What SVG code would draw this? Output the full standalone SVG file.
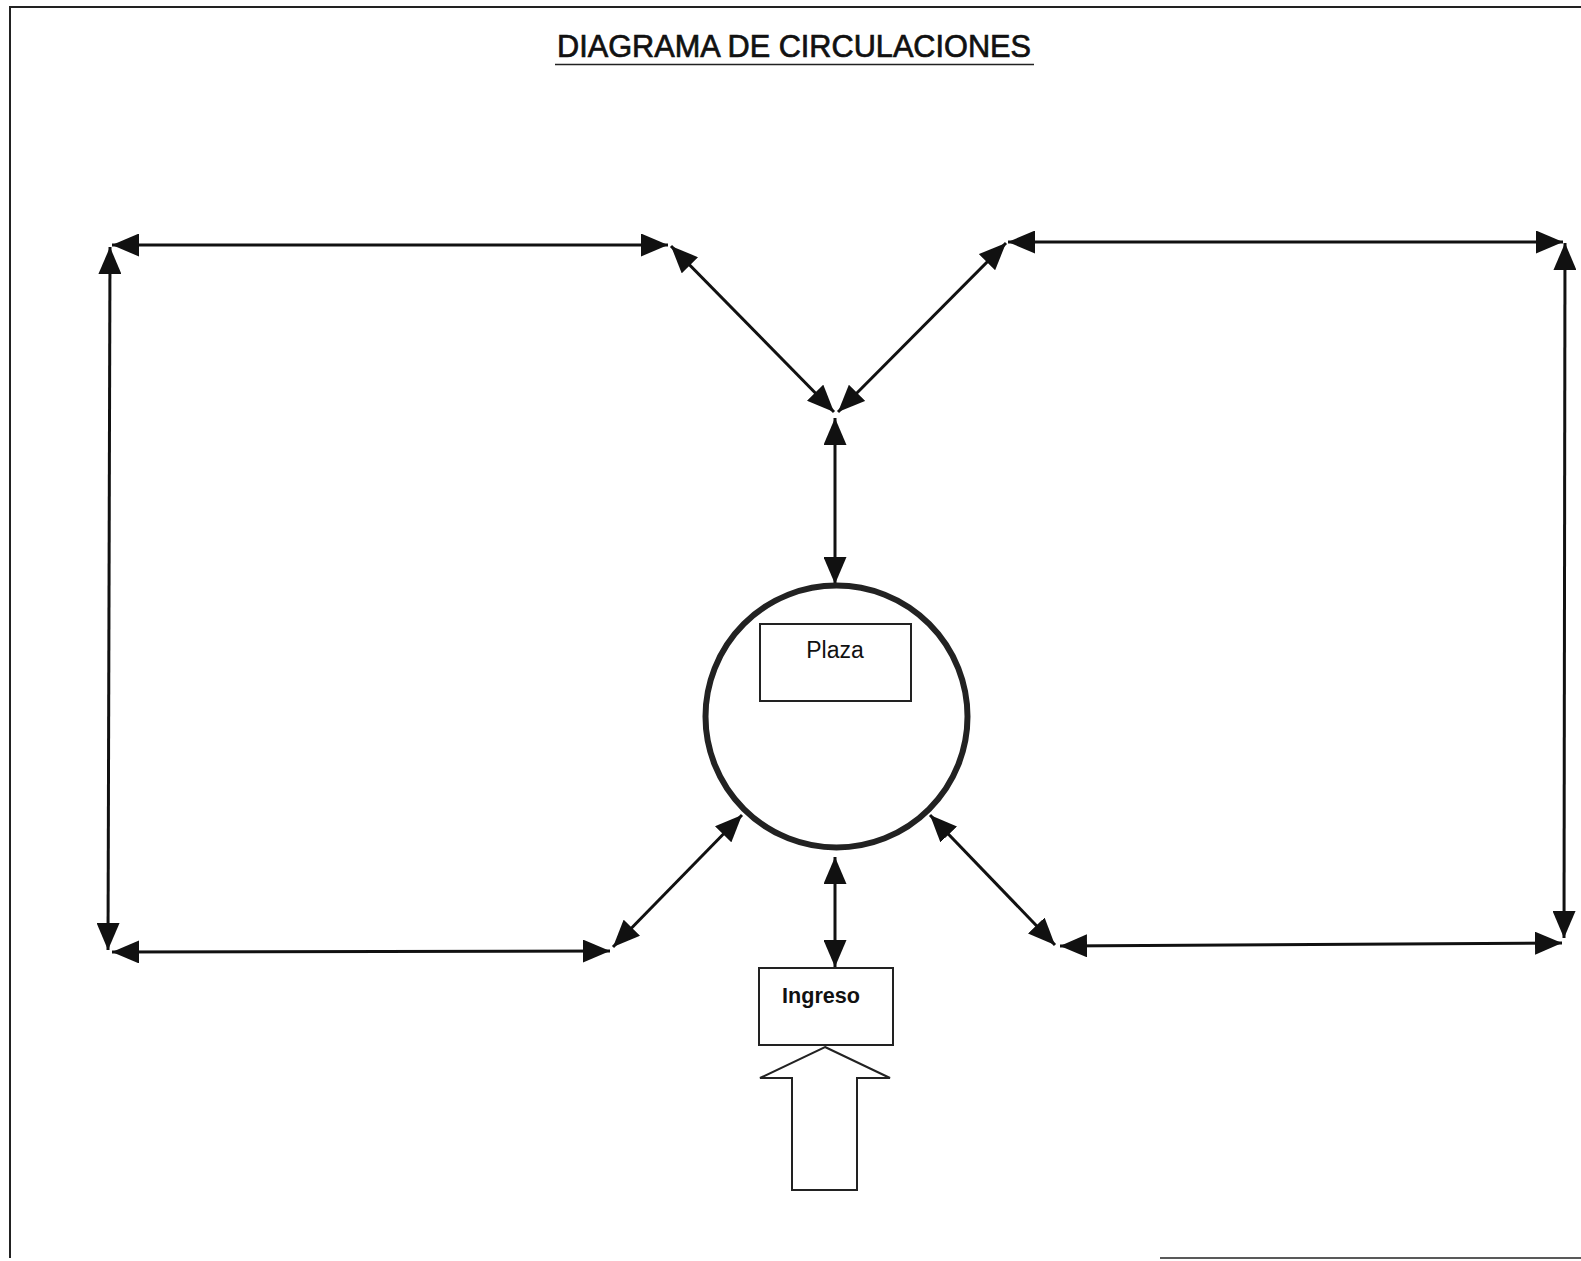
<svg xmlns="http://www.w3.org/2000/svg" width="1581" height="1261" viewBox="0 0 1581 1261">
<style>
.ln{stroke:#111;stroke-width:3;fill:none;marker-start:url(#ah);marker-end:url(#ah)}
.box{fill:#fff;stroke:#222;stroke-width:2}
.lbl{font-family:"Liberation Sans",Arial,sans-serif;fill:#111}
</style>
<defs>
<marker id="ah" viewBox="0 0 27 23" refX="27" refY="11.5" markerWidth="27" markerHeight="23" markerUnits="userSpaceOnUse" orient="auto-start-reverse">
<path d="M0,0 L27,11.5 L0,23 z" fill="#111"/>
</marker>
</defs>
<rect x="0" y="0" width="1581" height="1261" fill="#fff"/>
<g id="frame" fill="none" stroke="#222" stroke-width="2">
<path d="M10,1258 L10,7 L1581,7"/>
<path d="M1160,1258 L1581,1258" stroke-width="1.5"/>
</g>
<g id="title">
<text class="lbl" x="557" y="57" font-size="31" stroke="#111" stroke-width="0.7" textLength="474" lengthAdjust="spacingAndGlyphs">DIAGRAMA DE CIRCULACIONES</text>
<line x1="555" y1="64.5" x2="1034" y2="64.5" stroke="#222" stroke-width="1.5"/>
</g>
<g id="connectors">
<path class="ln" d="M112,245 L668,245"/>
<path class="ln" d="M110,247 L108,950"/>
<path class="ln" d="M112,952 L610,951"/>
<path class="ln" d="M671,246 L834,412"/>
<path class="ln" d="M1006,243 L838,412"/>
<path class="ln" d="M835,418 L835,584"/>
<path class="ln" d="M1008,242 L1563,242"/>
<path class="ln" d="M1565,243 L1564,938"/>
<path class="ln" d="M1060,946 L1562,943"/>
<path class="ln" d="M930,815 L1055,945"/>
<path class="ln" d="M742,815 L613,947"/>
<path class="ln" d="M835,857 L835,967"/>
</g>
<g id="plaza-circle">
<circle cx="836.5" cy="716.5" r="131" fill="none" stroke="#222" stroke-width="6"/>
</g>
<g id="plaza">
<rect class="box" x="760" y="624" width="151" height="77"/>
<text class="lbl" x="835" y="658" font-size="23" text-anchor="middle">Plaza</text>
</g>
<g id="ingreso">
<rect class="box" x="759" y="968" width="134" height="77"/>
<text class="lbl" x="821" y="1003" font-size="22" font-weight="bold" text-anchor="middle" textLength="78" lengthAdjust="spacingAndGlyphs">Ingreso</text>
</g>
<g id="entrada">
<path d="M825,1047 L890,1078 L857,1078 L857,1190 L792,1190 L792,1078 L760,1078 Z" fill="#fff" stroke="#222" stroke-width="2"/>
</g>
</svg>
